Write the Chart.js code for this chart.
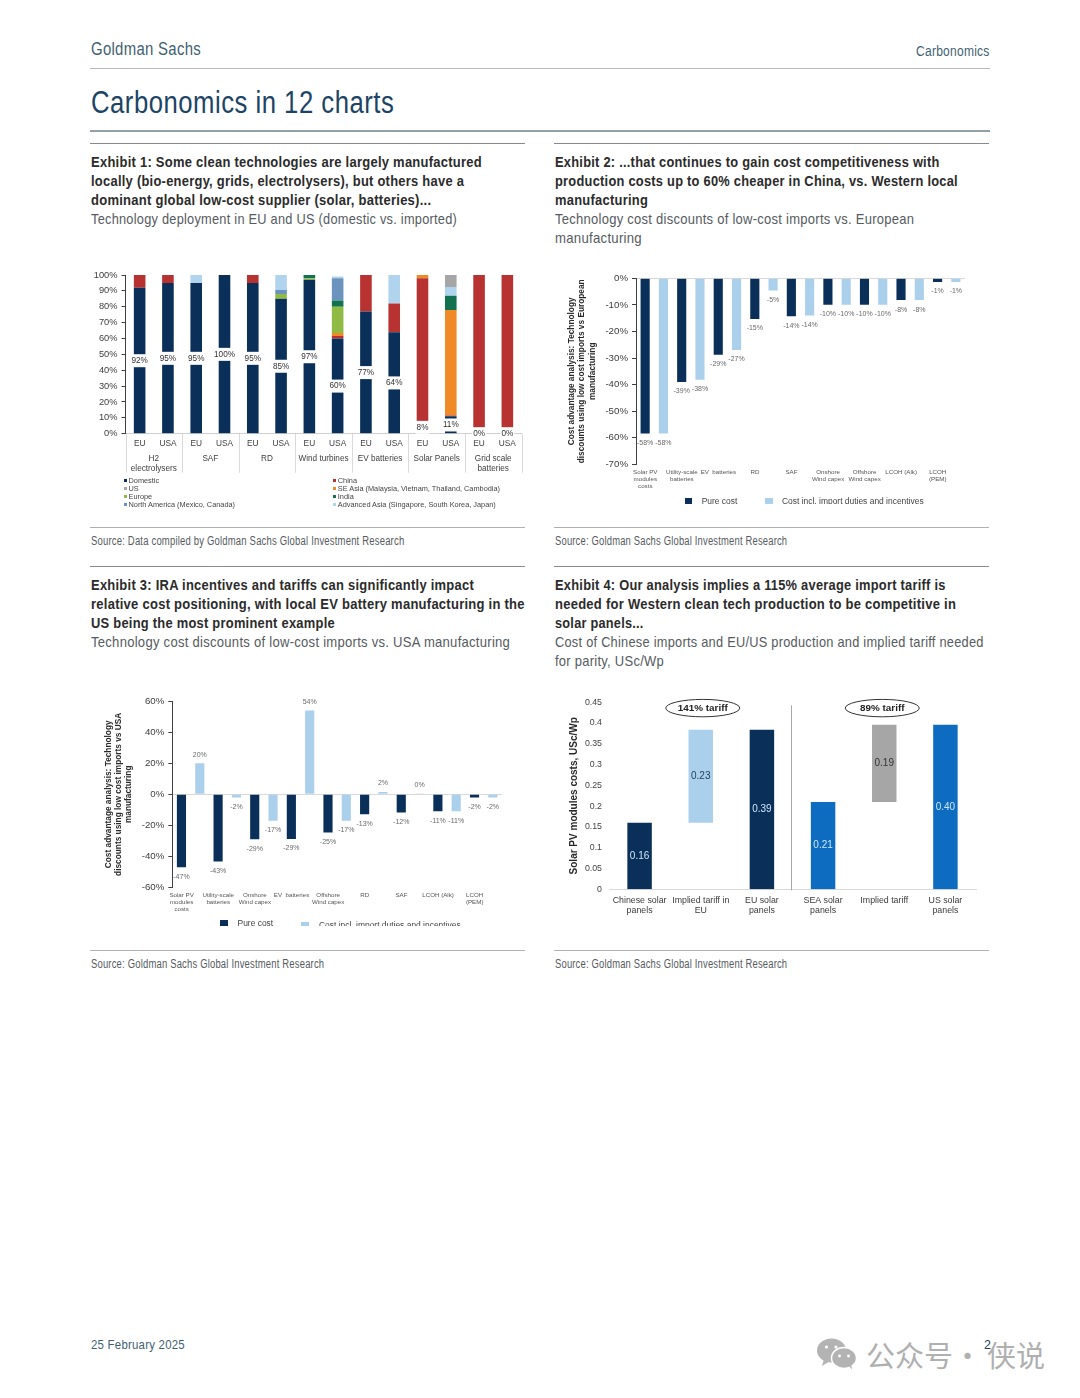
<!DOCTYPE html>
<html>
<head>
<meta charset="utf-8">
<title>Carbonomics in 12 charts</title>
<script src="https://cdn.jsdelivr.net/npm/chart.js@4"></script>
<style>
  html, body { margin: 0; background: #fff; }
  #page { position: relative; width: 1080px; height: 1398px; overflow: hidden; }
  canvas, .rule, .line, .key, .clip { position: absolute; }
  .line { white-space: nowrap; transform-origin: left center; line-height: 1; letter-spacing: 0.02em; font-family: "Liberation Sans Narrow", "Liberation Sans", sans-serif; }
  .key { font-family: "Liberation Sans", sans-serif; white-space: nowrap; line-height: 1; color: #444; }
  .clip { overflow: hidden; }
</style>
</head>
<body>
<div id="page"></div>
<script>
// ---- Exhibit 1: sourcing mix per technology ----
const mixBars = ['EU', 'USA', 'EU', 'USA', 'EU', 'USA', 'EU', 'USA', 'EU', 'USA', 'EU', 'USA', 'EU', 'USA'];
const mixGroups = [['H2', 'electrolysers'], 'SAF', 'RD', 'Wind turbines', 'EV batteries', 'Solar Panels', ['Grid scale', 'batteries']];
const mixDomestic = [92, 95, 95, 100, 95, 85, 97, 60, 77, 64, 8, 11, 0, 0];
const mixChina = [8, 5, 0, 0, 5, 0, 0, 1.5, 23, 18, 90, 0.5, 100, 100];
const mixSeAsia = [0, 0, 0, 0, 0, 0, 0, 2, 0, 0, 2, 66.5, 0, 0];
const mixEurope = [0, 0, 0, 0, 0, 3, 1, 16.5, 0, 0, 0, 0, 0, 0];
const mixIndia = [0, 0, 0, 0, 0, 0, 2, 4, 0, 0, 0, 9, 0, 0];
const mixNorthAm = [0, 0, 0, 0, 0, 2.5, 0, 14, 0, 0, 0, 0, 0, 0];
const mixAdvAsia = [0, 0, 5, 0, 0, 9.5, 0, 1, 0, 18, 0, 5.5, 0, 0];
const mixUs = [0, 0, 0, 0, 0, 0, 0, 0, 0, 0, 0, 7.5, 0, 0];

// ---- Exhibit 2: discounts vs European manufacturing ----
const euCats = [['Solar PV', 'modules', 'costs'], ['Utility-scale', 'batteries'], 'EV  batteries', 'RD', 'SAF', ['Onshore', 'Wind capex'], ['Offshore', 'Wind capex'], 'LCOH (Alk)', ['LCOH', '(PEM)']];
const euPure = [-58.4, -39, -28.8, -15.3, -14.3, -10, -10, -8.2, -1.4];
const euIncl = [-58.4, -38.2, -27, -4.6, -14, -10, -10, -8.2, -1.4];

// ---- Exhibit 3: discounts vs USA manufacturing ----
const usCats = [['Solar PV', 'modules', 'costs'], ['Utility-scale', 'batteries'], ['Onshore', 'Wind capex'], 'EV  batteries', ['Offshore', 'Wind capex'], 'RD', 'SAF', 'LCOH (Alk)', ['LCOH', '(PEM)']];
const usPure = [-47, -43.3, -29, -28.8, -24.7, -12.8, -11.8, -11, -2];
const usIncl = [20, -2, -17, 54, -17, 1.5, 0.2, -11, -2];

// ---- Exhibit 4: implied tariff bridge ----
const tariffCats = [['Chinese solar', 'panels'], ['Implied tariff in', 'EU'], ['EU solar', 'panels'], ['SEA solar', 'panels'], 'Implied tariff', ['US solar', 'panels']];
const tariffBase = [0, 0.16, 0, 0, 0.21, 0];
const tariffTop = [0.16, 0.384, 0.384, 0.21, 0.396, 0.396];
const tariffLabels = ['0.16', '0.23', '0.39', '0.21', '0.19', '0.40'];

const NAVY = '#0a305a', LIGHT = '#abd0ec', RED = '#b93232', BLUE = '#0d6cbf', GREY = '#a6a6a6';
const TICK = '#404040', LABEL = '#6a6a6a';
const ARIAL = '"Liberation Sans", Arial, sans-serif';

// ---- Page furniture: text, x, y centre, font size, target width, weight, colour ----
const INK = '#2b2b2b', SOFT = '#555b60', TEAL = '#3f5f73';
const textLines = [
  ['Goldman Sachs', 91, 50, 17.5, 110, 400, TEAL],
  ['Carbonomics', 916, 51, 14, 74, 400, TEAL],
  ['Carbonomics in 12 charts', 91, 102.5, 31, 303, 400, '#1c4466'],
  ['Exhibit 1: Some clean technologies are largely manufactured', 91, 161, 15, 391, 700, INK],
  ['locally (bio-energy, grids, electrolysers), but others have a', 91, 180, 15, 373, 700, INK],
  ['dominant global low-cost supplier (solar, batteries)...', 91, 199.5, 15, 340, 700, INK],
  ['Technology deployment in EU and US (domestic vs. imported)', 91, 218.5, 15, 366, 400, SOFT],
  ['Exhibit 2: ...that continues to gain cost competitiveness with', 554.5, 161, 15, 385, 700, INK],
  ['production costs up to 60% cheaper in China, vs. Western local', 554.5, 180, 15, 403, 700, INK],
  ['manufacturing', 554.5, 199.5, 15, 93, 700, INK],
  ['Technology cost discounts of low-cost imports vs. European', 554.5, 218.5, 15, 359, 400, SOFT],
  ['manufacturing', 554.5, 237, 15, 87, 400, SOFT],
  ['Source: Data compiled by Goldman Sachs Global Investment Research', 91, 541, 12, 313, 400, SOFT],
  ['Source: Goldman Sachs Global Investment Research', 554.5, 541, 12, 232, 400, SOFT],
  ['Exhibit 3: IRA incentives and tariffs can significantly impact', 91, 584, 15, 383, 700, INK],
  ['relative cost positioning, with local EV battery manufacturing in the', 91, 603.5, 15, 434, 700, INK],
  ['US being the most prominent example', 91, 622.5, 15, 244, 700, INK],
  ['Technology cost discounts of low-cost imports vs. USA manufacturing', 91, 641.5, 15, 419, 400, SOFT],
  ['Exhibit 4: Our analysis implies a 115% average import tariff is', 554.5, 584, 15, 391, 700, INK],
  ['needed for Western clean tech production to be competitive in', 554.5, 603.5, 15, 401, 700, INK],
  ['solar panels...', 554.5, 622.5, 15, 89, 700, INK],
  ['Cost of Chinese imports and EU/US production and implied tariff needed', 554.5, 641.5, 15, 429, 400, SOFT],
  ['for parity, USc/Wp', 554.5, 660, 15, 109, 400, SOFT],
  ['Source: Goldman Sachs Global Investment Research', 91, 964, 12, 233, 400, SOFT],
  ['Source: Goldman Sachs Global Investment Research', 554.5, 964, 12, 232, 400, SOFT],
  ['25 February 2025', 91, 1344.5, 13.5, 94, 400, TEAL],
];
// x, y, width, thickness, colour
const rules = [
  [90, 67.5, 900, 1.5, '#b4babd'], [90, 130, 900, 1.5, '#94a0a8'],
  [90, 143, 435, 1, '#8a8a8a'], [554, 143, 435, 1, '#8a8a8a'],
  [90, 527, 435, 1, '#b0b0b0'], [554, 527, 435, 1, '#b0b0b0'],
  [90, 566, 435, 1, '#8a8a8a'], [554, 566, 435, 1, '#8a8a8a'],
  [90, 950, 435, 1, '#b0b0b0'], [554, 950, 435, 1, '#b0b0b0'],
];

const page = document.getElementById('page');

function addDiv(cls, css, text) {
  const d = document.createElement('div');
  d.className = cls;
  d.style.cssText = css;
  if (text !== undefined) d.textContent = text;
  page.append(d);
  return d;
}

for (const [x, y, w, h, c] of rules) addDiv('rule', `left:${x}px;top:${y}px;width:${w}px;height:${h}px;background:${c}`);

for (const [text, x, y, size, width, weight, color] of textLines) {
  const d = addDiv('line', `left:${x}px;top:${y - size / 2}px;font-size:${size}px;font-weight:${weight};color:${color}`, text);
  d.style.transform = `scaleX(${width / d.offsetWidth})`; // squeeze to the condensed face of the original
}

function makeCanvas(x, y, w, h) {
  const c = document.createElement('canvas');
  c.width = w; c.height = h;
  c.style.cssText = `left:${x}px;top:${y}px;width:${w}px;height:${h}px`;
  page.append(c);
  return c;
}

function keyItem(x, y, size, text) {
  addDiv('key', `left:${x}px;top:${y - size / 2}px;font-size:${size}px`, text);
}
function keySwatch(x, y, w, h, color) {
  addDiv('key', `left:${x}px;top:${y - h / 2}px;width:${w}px;height:${h}px;background:${color}`);
}

const fixSize = (prop, size) => (scale) => { scale[prop] = size; };

// ---- Exhibit 1 ----
const mixSeries = [
  ['Domestic', mixDomestic, NAVY], ['China', mixChina, RED], ['SE Asia (Malaysia, Vietnam, Thailand, Cambodia)', mixSeAsia, '#f08a26'],
  ['Europe', mixEurope, '#8fbb45'], ['India', mixIndia, '#12724f'], ['North America (Mexico, Canada)', mixNorthAm, '#6b93bd'],
  ['Advanced Asia (Singapore, South Korea, Japan)', mixAdvAsia, '#b0d4ee'], ['US', mixUs, GREY],
];

// White-backed share labels centred on the domestic segment, plus group dividers
const mixLabels = {
  id: 'mixLabels',
  afterDatasetsDraw(chart) {
    const { ctx, scales: { x, y, x2 } } = chart;
    const half = x2.getPixelForValue(0) - x2.left;
    ctx.save();
    ctx.strokeStyle = '#d9d9d9';
    ctx.lineWidth = 1;
    mixGroups.concat(['']).forEach((g, i) => {
      const px = Math.round(x2.left + i * 2 * half) + 0.5;
      ctx.beginPath(); ctx.moveTo(px, y.bottom); ctx.lineTo(px, y.bottom + 39); ctx.stroke();
    });
    ctx.font = `8.2px ${ARIAL}`;
    ctx.textAlign = 'center';
    ctx.textBaseline = 'middle';
    mixDomestic.forEach((v, i) => {
      const px = x.getPixelForValue(i);
      const py = y.getPixelForValue(v / 2);
      ctx.fillStyle = '#fff';
      ctx.fillRect(px - 7, py - 6.5, 14, 13);
      ctx.fillStyle = '#333';
      ctx.fillText(`${v}%`, px, py);
    });
    ctx.restore();
  },
};

new Chart(makeCanvas(90, 265, 435, 212), {
  type: 'bar',
  data: {
    labels: mixBars,
    datasets: mixSeries.map(([label, data, color]) => ({ label, data, backgroundColor: color, barPercentage: 0.41, categoryPercentage: 1 })),
  },
  options: {
    responsive: false, animation: false, devicePixelRatio: 1,
    layout: { padding: { top: 10, right: 3.5 } },
    plugins: { legend: { display: false }, tooltip: { enabled: false } },
    scales: {
      x: {
        stacked: true, offset: true, afterFit: fixSize('height', 15),
        grid: { display: false, drawTicks: false }, border: { color: '#d0d0d0' },
        ticks: { color: TICK, font: { size: 8.3, family: ARIAL }, padding: 5, maxRotation: 0, autoSkip: false },
      },
      x2: {
        type: 'category', labels: mixGroups, offset: true, position: 'bottom', afterFit: fixSize('height', 28.3),
        grid: { display: false, drawTicks: false }, border: { display: false },
        ticks: { color: TICK, font: { size: 8.2, family: ARIAL, lineHeight: 1.22 }, padding: 5, maxRotation: 0, autoSkip: false },
      },
      y: {
        stacked: true, min: 0, max: 100, afterFit: fixSize('width', 35.5),
        grid: { drawOnChartArea: false, tickLength: 4, tickColor: '#404040' }, border: { color: '#404040' },
        ticks: { stepSize: 10, color: TICK, font: { size: 9.3, family: ARIAL }, padding: 4, callback: (v) => `${v}%` },
      },
    },
  },
  plugins: [mixLabels],
});

const mixKeyLeft = ['Domestic', 'US', 'Europe', 'North America (Mexico, Canada)'];
const mixKeyRight = ['China', 'SE Asia (Malaysia, Vietnam, Thailand, Cambodia)', 'India', 'Advanced Asia (Singapore, South Korea, Japan)'];
[[mixKeyLeft, 123.5, 128.5], [mixKeyRight, 332.5, 337.8]].forEach(([names, sx, tx]) => {
  names.forEach((name, i) => {
    const y = 480.8 + i * 8;
    keySwatch(sx, y, 3, 3, mixSeries.find((s) => s[0] === name)[2]);
    keyItem(tx, y, 7.35, name);
  });
});

// ---- Exhibits 2 and 3 share one chart shape ----
const outsideLabels = {
  id: 'outsideLabels',
  afterDatasetsDraw(chart) {
    const { ctx } = chart;
    ctx.save();
    ctx.font = `7px ${ARIAL}`;
    ctx.fillStyle = LABEL;
    ctx.textAlign = 'center';
    ctx.textBaseline = 'middle';
    chart.data.datasets.forEach((ds, d) => {
      chart.getDatasetMeta(d).data.forEach((bar, i) => {
        const v = ds.data[i];
        ctx.fillText(`${Math.round(v)}%`, bar.x, bar.y + (v < 0 ? 9.5 : -8.5));
      });
    });
    ctx.restore();
  },
};

function discountChart(box, cats, pure, incl, yMin, yMax, step, title, axisW, padRight, titlePad) {
  new Chart(makeCanvas(...box), {
    type: 'bar',
    data: {
      labels: cats,
      datasets: [
        { label: 'Pure cost', data: pure, backgroundColor: NAVY, barPercentage: 0.5, categoryPercentage: 1 },
        { label: 'Cost incl. import duties and incentives', data: incl, backgroundColor: LIGHT, barPercentage: 0.5, categoryPercentage: 1 },
      ],
    },
    options: {
      responsive: false, animation: false, devicePixelRatio: 1,
      layout: { padding: { top: 10.3, right: padRight } },
      plugins: { legend: { display: false }, tooltip: { enabled: false } },
      scales: {
        x: {
          afterFit: fixSize('height', 28.7),
          grid: { display: false, drawTicks: false }, border: { display: false },
          ticks: { color: '#555', font: { size: 6.2, family: ARIAL, lineHeight: 1.18 }, padding: 4, labelOffset: -9, maxRotation: 0, autoSkip: false },
        },
        y: {
          min: yMin, max: yMax, afterFit: fixSize('width', axisW),
          grid: {
            tickLength: 4, tickColor: '#404040',
            color: (c) => (c.tick.value === 0 ? '#d9d9d9' : 'transparent'),
          },
          border: { color: '#404040' },
          title: { display: true, text: title, color: '#2a2a2a', font: { size: 8.3, weight: 'bold', family: ARIAL, lineHeight: 1.22 }, padding: { top: titlePad, bottom: 0 } },
          ticks: { stepSize: step, color: TICK, font: { size: 9.7, family: ARIAL }, padding: 4, callback: (v) => `${v}%` },
        },
      },
    },
    plugins: [outsideLabels],
  });
}

discountChart([560, 268, 410, 225], euCats, euPure, euIncl, -70, 0, 10,
  ['Cost advantage analysis: Technology', 'discounts using low cost imports vs European', 'manufacturing'], 76, 5, 7);
discountChart([95, 691, 415, 225], usCats, usPure, usIncl, -60, 60, 20,
  ['Cost advantage analysis: Technology', 'discounts using low cost imports vs USA', 'manufacturing'], 77.3, 8, 8.5);

function discountKey(clipTop, clipH, y1, y2, x1, t1, x2, t2) {
  const clip = addDiv('clip', `left:0;top:${clipTop}px;width:1080px;height:${clipH}px`);
  [['Pure cost', x1, t1, y1, NAVY], ['Cost incl. import duties and incentives', x2, t2, y2, LIGHT]].forEach(([name, sx, tx, y, color]) => {
    const sw = addDiv('key', `left:${sx}px;top:${y - 3 - clipTop}px;width:7.5px;height:6px;background:${color}`);
    const tl = addDiv('key', `left:${tx}px;top:${y - 4 - clipTop}px;font-size:8.45px`, name);
    clip.append(sw, tl);
  });
}
discountKey(494, 10, 501, 501, 684.5, 701.7, 765, 782);
discountKey(915, 11, 922.5, 924.5, 220, 237.5, 301, 319);

// ---- Exhibit 4 ----
const tariffColors = [NAVY, LIGHT, NAVY, BLUE, GREY, BLUE];
const tariffText = ['#cfe6f8', '#1d3f5e', '#cfe6f8', '#cfe6f8', '#333', '#cfe6f8'];
const tariffOvals = [['141% tariff', 1, 2], ['89% tariff', 4, -2]];

const tariffExtras = {
  id: 'tariffExtras',
  afterDatasetsDraw(chart) {
    const { ctx, scales: { x, y } } = chart;
    ctx.save();
    ctx.textAlign = 'center';
    ctx.textBaseline = 'middle';
    ctx.font = `10px ${ARIAL}`;
    chart.getDatasetMeta(0).data.forEach((bar, i) => {
      ctx.fillStyle = tariffText[i];
      ctx.fillText(tariffLabels[i], bar.x, y.getPixelForValue((tariffBase[i] + tariffTop[i]) / 2));
    });
    // divider between the EU and US bridges
    const mid = Math.floor((x.getPixelForValue(2) + x.getPixelForValue(3)) / 2) - 0.5;
    ctx.strokeStyle = '#a8a8a8';
    ctx.lineWidth = 1;
    ctx.beginPath(); ctx.moveTo(mid, y.top + 3); ctx.lineTo(mid, y.bottom + 1); ctx.stroke();
    for (const [text, idx, nudge] of tariffOvals) {
      const px = x.getPixelForValue(idx) + nudge;
      const py = y.getPixelForValue(0.436);
      ctx.fillStyle = '#fff';
      ctx.strokeStyle = '#333';
      ctx.beginPath(); ctx.ellipse(px, py, 37, 8.7, 0, 0, Math.PI * 2); ctx.fill(); ctx.stroke();
      ctx.fillStyle = '#222';
      ctx.font = `bold 9.9px ${ARIAL}`;
      ctx.fillText(text, px, py + 0.5);
    }
    ctx.restore();
  },
};

new Chart(makeCanvas(558, 690, 420, 227), {
  type: 'bar',
  data: {
    labels: tariffCats,
    datasets: [{
      data: tariffBase.map((b, i) => [b, tariffTop[i]]),
      backgroundColor: tariffColors, barPercentage: 0.4, categoryPercentage: 1,
    }],
  },
  options: {
    responsive: false, animation: false, devicePixelRatio: 1,
    layout: { padding: { top: 7.6, right: 2 } },
    plugins: { legend: { display: false }, tooltip: { enabled: false } },
    scales: {
      x: {
        afterFit: fixSize('height', 27.7),
        grid: { display: false, drawTicks: false }, border: { color: '#d9d9d9' },
        ticks: { color: '#3a3a3a', font: { size: 8.8, family: ARIAL, lineHeight: 1.2 }, padding: 5.5, maxRotation: 0, autoSkip: false },
      },
      y: {
        min: 0, max: 0.45, afterFit: fixSize('width', 51),
        grid: { display: false, drawTicks: false }, border: { display: false },
        title: { display: true, text: 'Solar PV modules costs, USc/Wp', color: '#2a2a2a', font: { size: 10, weight: 'bold', family: ARIAL }, padding: { top: 10, bottom: 0 } },
        ticks: { stepSize: 0.05, color: '#444', font: { size: 8.8, family: ARIAL }, padding: 7, callback: (v) => String(Number(v.toFixed(2))) },
      },
    },
  },
  plugins: [tariffExtras],
});

// ---- Footer watermark ----
page.insertAdjacentHTML('beforeend', `
<svg style="position:absolute;left:816px;top:1338px" width="42" height="32" viewBox="0 0 42 32">
  <ellipse cx="15.5" cy="12.5" rx="14.5" ry="12" fill="#b3b3b3"/>
  <path d="M8 21 L6 28 L14 23 Z" fill="#b3b3b3"/>
  <ellipse cx="28" cy="20" rx="12.5" ry="10.5" fill="#b3b3b3" stroke="#fff" stroke-width="1.5"/>
  <path d="M33 28 L36 31.5 L35 25 Z" fill="#b3b3b3"/>
  <circle cx="10.5" cy="9" r="1.6" fill="#fff"/><circle cx="20" cy="9" r="1.6" fill="#fff"/>
  <circle cx="23.5" cy="18" r="1.4" fill="#fff"/><circle cx="32.5" cy="18" r="1.4" fill="#fff"/>
</svg>`);
const markFont = 'font:29px "Noto Sans CJK SC",sans-serif;color:#b0b0b0;line-height:30px';
addDiv('key', `left:866px;top:1339px;${markFont}`, '公众号');
addDiv('key', `left:953px;top:1339px;${markFont}`, '·');
addDiv('key', `left:987px;top:1339px;${markFont}`, '侠说');
addDiv('key', 'left:984px;top:1338px;font:12.5px "Liberation Sans Narrow","Liberation Sans",sans-serif;color:#24425f', '2');
</script>
</body>
</html>
